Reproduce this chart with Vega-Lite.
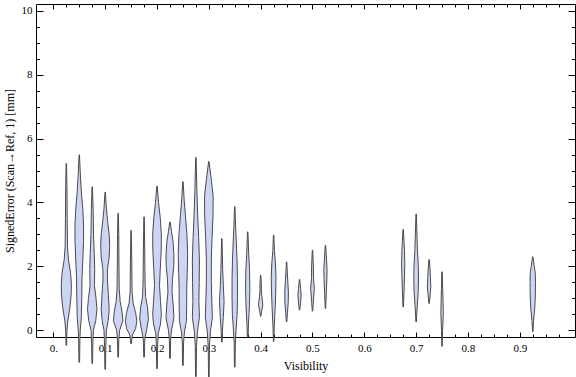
{
"$schema": "https://vega.github.io/schema/vega-lite/v6.json",
"width": 539, "height": 333,
"autosize": {"type": "none"},
"padding": {"left": 36, "top": 4, "right": 1, "bottom": 40},
"background": "white",
"config": {
 "view": {"stroke": "black", "strokeWidth": 1},
 "axis": {"domain": false, "grid": false, "labelFont": "Liberation Serif", "titleFont": "Liberation Serif", "labelColor": "black", "titleColor": "black", "tickColor": "black", "labelFontSize": 11, "titleFontSize": 12, "titleFontWeight": "normal", "tickWidth": 1}
},
"data": {"values": [
{"g":0.025,"y":-0.47,"lo":0.0244,"hi":0.0256},{"g":0.025,"y":0,"lo":0.0238,"hi":0.0262},{"g":0.025,"y":0.3,"lo":0.0221,"hi":0.0279},{"g":0.025,"y":0.7,"lo":0.0182,"hi":0.0318},{"g":0.025,"y":1.1,"lo":0.0157,"hi":0.0343},{"g":0.025,"y":1.45,"lo":0.0153,"hi":0.0347},{"g":0.025,"y":1.8,"lo":0.0169,"hi":0.0331},{"g":0.025,"y":2.2,"lo":0.0208,"hi":0.0292},{"g":0.025,"y":2.6,"lo":0.0227,"hi":0.0273},{"g":0.025,"y":3.5,"lo":0.0233,"hi":0.0267},{"g":0.025,"y":4.5,"lo":0.0238,"hi":0.0262},{"g":0.025,"y":5.22,"lo":0.0246,"hi":0.0254},
{"g":0.05,"y":-1.0,"lo":0.0494,"hi":0.0506},{"g":0.05,"y":-0.3,"lo":0.0488,"hi":0.0512},{"g":0.05,"y":0,"lo":0.0481,"hi":0.0519},{"g":0.05,"y":0.4,"lo":0.0461,"hi":0.0539},{"g":0.05,"y":1.0,"lo":0.0452,"hi":0.0548},{"g":0.05,"y":1.6,"lo":0.0448,"hi":0.0552},{"g":0.05,"y":2.2,"lo":0.0432,"hi":0.0568},{"g":0.05,"y":2.8,"lo":0.0417,"hi":0.0583},{"g":0.05,"y":3.3,"lo":0.0417,"hi":0.0583},{"g":0.05,"y":3.8,"lo":0.0432,"hi":0.0568},{"g":0.05,"y":4.3,"lo":0.0458,"hi":0.0542},{"g":0.05,"y":4.8,"lo":0.0477,"hi":0.0523},{"g":0.05,"y":5.49,"lo":0.0496,"hi":0.0504},
{"g":0.075,"y":-1.04,"lo":0.0744,"hi":0.0756},{"g":0.075,"y":-0.4,"lo":0.0738,"hi":0.0762},{"g":0.075,"y":0,"lo":0.0727,"hi":0.0773},{"g":0.075,"y":0.3,"lo":0.0682,"hi":0.0818},{"g":0.075,"y":0.65,"lo":0.0659,"hi":0.0841},{"g":0.075,"y":1.0,"lo":0.0677,"hi":0.0823},{"g":0.075,"y":1.4,"lo":0.0708,"hi":0.0792},{"g":0.075,"y":1.9,"lo":0.0702,"hi":0.0798},{"g":0.075,"y":2.4,"lo":0.0711,"hi":0.0789},{"g":0.075,"y":3.0,"lo":0.0725,"hi":0.0775},{"g":0.075,"y":3.8,"lo":0.0733,"hi":0.0767},{"g":0.075,"y":4.49,"lo":0.0746,"hi":0.0754},
{"g":0.1,"y":-1.22,"lo":0.0994,"hi":0.1006},{"g":0.1,"y":-0.5,"lo":0.0988,"hi":0.1012},{"g":0.1,"y":0,"lo":0.0977,"hi":0.1023},{"g":0.1,"y":0.3,"lo":0.0942,"hi":0.1058},{"g":0.1,"y":0.65,"lo":0.0923,"hi":0.1077},{"g":0.1,"y":1.1,"lo":0.0938,"hi":0.1062},{"g":0.1,"y":1.6,"lo":0.0958,"hi":0.1042},{"g":0.1,"y":1.9,"lo":0.0956,"hi":0.1044},{"g":0.1,"y":2.3,"lo":0.0923,"hi":0.1077},{"g":0.1,"y":2.65,"lo":0.0913,"hi":0.1087},{"g":0.1,"y":3.0,"lo":0.0923,"hi":0.1077},{"g":0.1,"y":3.4,"lo":0.0952,"hi":0.1048},{"g":0.1,"y":3.8,"lo":0.0977,"hi":0.1023},{"g":0.1,"y":4.32,"lo":0.0996,"hi":0.1004},
{"g":0.125,"y":-0.84,"lo":0.1244,"hi":0.1256},{"g":0.125,"y":-0.3,"lo":0.1238,"hi":0.1262},{"g":0.125,"y":0,"lo":0.1221,"hi":0.1279},{"g":0.125,"y":0.3,"lo":0.1159,"hi":0.1341},{"g":0.125,"y":0.6,"lo":0.1177,"hi":0.1323},{"g":0.125,"y":0.9,"lo":0.1211,"hi":0.1289},{"g":0.125,"y":1.3,"lo":0.1229,"hi":0.1271},{"g":0.125,"y":2.2,"lo":0.1235,"hi":0.1265},{"g":0.125,"y":3.0,"lo":0.1238,"hi":0.1262},{"g":0.125,"y":3.66,"lo":0.1246,"hi":0.1254},
{"g":0.15,"y":-0.42,"lo":0.1494,"hi":0.1506},{"g":0.15,"y":-0.15,"lo":0.1477,"hi":0.1523},{"g":0.15,"y":0.05,"lo":0.1413,"hi":0.1587},{"g":0.15,"y":0.3,"lo":0.139,"hi":0.161},{"g":0.15,"y":0.55,"lo":0.1413,"hi":0.1587},{"g":0.15,"y":0.85,"lo":0.1461,"hi":0.1539},{"g":0.15,"y":1.2,"lo":0.1481,"hi":0.1519},{"g":0.15,"y":2.2,"lo":0.1487,"hi":0.1513},{"g":0.15,"y":3.13,"lo":0.1496,"hi":0.1504},
{"g":0.175,"y":-0.84,"lo":0.1744,"hi":0.1756},{"g":0.175,"y":-0.25,"lo":0.1735,"hi":0.1765},{"g":0.175,"y":0,"lo":0.1702,"hi":0.1798},{"g":0.175,"y":0.35,"lo":0.1667,"hi":0.1833},{"g":0.175,"y":0.7,"lo":0.1682,"hi":0.1818},{"g":0.175,"y":1.05,"lo":0.1721,"hi":0.1779},{"g":0.175,"y":1.5,"lo":0.1731,"hi":0.1769},{"g":0.175,"y":2.5,"lo":0.1737,"hi":0.1763},{"g":0.175,"y":3.55,"lo":0.1746,"hi":0.1754},
{"g":0.2,"y":-1.2,"lo":0.1994,"hi":0.2006},{"g":0.2,"y":-0.5,"lo":0.1988,"hi":0.2012},{"g":0.2,"y":-0.1,"lo":0.1977,"hi":0.2023},{"g":0.2,"y":0.2,"lo":0.1932,"hi":0.2068},{"g":0.2,"y":0.5,"lo":0.1917,"hi":0.2083},{"g":0.2,"y":0.9,"lo":0.1932,"hi":0.2068},{"g":0.2,"y":1.4,"lo":0.1952,"hi":0.2048},{"g":0.2,"y":1.9,"lo":0.1938,"hi":0.2062},{"g":0.2,"y":2.5,"lo":0.1919,"hi":0.2081},{"g":0.2,"y":3.0,"lo":0.1917,"hi":0.2083},{"g":0.2,"y":3.5,"lo":0.1936,"hi":0.2064},{"g":0.2,"y":4.0,"lo":0.1971,"hi":0.2029},{"g":0.2,"y":4.51,"lo":0.1996,"hi":0.2004},
{"g":0.225,"y":-0.88,"lo":0.2244,"hi":0.2256},{"g":0.225,"y":-0.3,"lo":0.2238,"hi":0.2262},{"g":0.225,"y":0,"lo":0.2221,"hi":0.2279},{"g":0.225,"y":0.4,"lo":0.2173,"hi":0.2327},{"g":0.225,"y":0.8,"lo":0.2188,"hi":0.2312},{"g":0.225,"y":1.2,"lo":0.2211,"hi":0.2289},{"g":0.225,"y":1.6,"lo":0.2202,"hi":0.2298},{"g":0.225,"y":2.0,"lo":0.2177,"hi":0.2323},{"g":0.225,"y":2.35,"lo":0.2173,"hi":0.2327},{"g":0.225,"y":2.8,"lo":0.2192,"hi":0.2308},{"g":0.225,"y":3.1,"lo":0.2221,"hi":0.2279},{"g":0.225,"y":3.39,"lo":0.2246,"hi":0.2254},
{"g":0.25,"y":-1.1,"lo":0.2494,"hi":0.2506},{"g":0.25,"y":-0.4,"lo":0.2488,"hi":0.2512},{"g":0.25,"y":-0.05,"lo":0.2471,"hi":0.2529},{"g":0.25,"y":0.3,"lo":0.2432,"hi":0.2568},{"g":0.25,"y":0.8,"lo":0.2427,"hi":0.2573},{"g":0.25,"y":1.3,"lo":0.2427,"hi":0.2573},{"g":0.25,"y":1.8,"lo":0.2417,"hi":0.2583},{"g":0.25,"y":2.4,"lo":0.2409,"hi":0.2591},{"g":0.25,"y":3.0,"lo":0.2423,"hi":0.2577},{"g":0.25,"y":3.6,"lo":0.2452,"hi":0.2548},{"g":0.25,"y":4.1,"lo":0.2477,"hi":0.2523},{"g":0.25,"y":4.65,"lo":0.2496,"hi":0.2504},
{"g":0.275,"y":-1.45,"lo":0.2744,"hi":0.2756},{"g":0.275,"y":-0.5,"lo":0.2738,"hi":0.2762},{"g":0.275,"y":-0.05,"lo":0.2721,"hi":0.2779},{"g":0.275,"y":0.4,"lo":0.2682,"hi":0.2818},{"g":0.275,"y":0.9,"lo":0.2692,"hi":0.2808},{"g":0.275,"y":1.5,"lo":0.2686,"hi":0.2814},{"g":0.275,"y":2.2,"lo":0.2682,"hi":0.2818},{"g":0.275,"y":2.9,"lo":0.2696,"hi":0.2804},{"g":0.275,"y":3.6,"lo":0.2715,"hi":0.2785},{"g":0.275,"y":4.4,"lo":0.2731,"hi":0.2769},{"g":0.275,"y":5.41,"lo":0.2746,"hi":0.2754},
{"g":0.3,"y":-1.46,"lo":0.2994,"hi":0.3006},{"g":0.3,"y":-0.5,"lo":0.2988,"hi":0.3012},{"g":0.3,"y":-0.05,"lo":0.2971,"hi":0.3029},{"g":0.3,"y":0.4,"lo":0.2932,"hi":0.3068},{"g":0.3,"y":0.9,"lo":0.2942,"hi":0.3058},{"g":0.3,"y":1.5,"lo":0.2952,"hi":0.3048},{"g":0.3,"y":2.2,"lo":0.2952,"hi":0.3048},{"g":0.3,"y":2.9,"lo":0.2938,"hi":0.3062},{"g":0.3,"y":3.6,"lo":0.2919,"hi":0.3081},{"g":0.3,"y":4.2,"lo":0.2917,"hi":0.3083},{"g":0.3,"y":4.7,"lo":0.2952,"hi":0.3048},{"g":0.3,"y":5.28,"lo":0.2996,"hi":0.3004},
{"g":0.325,"y":-0.37,"lo":0.3244,"hi":0.3256},{"g":0.325,"y":0,"lo":0.3237,"hi":0.3263},{"g":0.325,"y":0.4,"lo":0.3221,"hi":0.3279},{"g":0.325,"y":0.9,"lo":0.3206,"hi":0.3294},{"g":0.325,"y":1.4,"lo":0.3221,"hi":0.3279},{"g":0.325,"y":1.9,"lo":0.3233,"hi":0.3267},{"g":0.325,"y":2.87,"lo":0.3246,"hi":0.3254},
{"g":0.35,"y":-1.15,"lo":0.3494,"hi":0.3506},{"g":0.35,"y":-0.3,"lo":0.3488,"hi":0.3512},{"g":0.35,"y":0,"lo":0.3475,"hi":0.3525},{"g":0.35,"y":0.5,"lo":0.3454,"hi":0.3546},{"g":0.35,"y":1.0,"lo":0.3448,"hi":0.3552},{"g":0.35,"y":1.6,"lo":0.3448,"hi":0.3552},{"g":0.35,"y":2.2,"lo":0.3456,"hi":0.3544},{"g":0.35,"y":2.8,"lo":0.3471,"hi":0.3529},{"g":0.35,"y":3.3,"lo":0.3485,"hi":0.3515},{"g":0.35,"y":3.87,"lo":0.3496,"hi":0.3504},
{"g":0.375,"y":-0.2,"lo":0.3744,"hi":0.3756},{"g":0.375,"y":0.2,"lo":0.3735,"hi":0.3765},{"g":0.375,"y":0.7,"lo":0.3719,"hi":0.3781},{"g":0.375,"y":1.3,"lo":0.3708,"hi":0.3792},{"g":0.375,"y":1.9,"lo":0.3715,"hi":0.3785},{"g":0.375,"y":2.4,"lo":0.3731,"hi":0.3769},{"g":0.375,"y":3.08,"lo":0.3746,"hi":0.3754},
{"g":0.4,"y":0.44,"lo":0.3996,"hi":0.4004},{"g":0.4,"y":0.6,"lo":0.3981,"hi":0.4019},{"g":0.4,"y":0.8,"lo":0.3958,"hi":0.4042},{"g":0.4,"y":1.05,"lo":0.3977,"hi":0.4023},{"g":0.4,"y":1.2,"lo":0.3985,"hi":0.4015},{"g":0.4,"y":1.45,"lo":0.3987,"hi":0.4013},{"g":0.4,"y":1.72,"lo":0.3996,"hi":0.4004},
{"g":0.425,"y":-0.35,"lo":0.4246,"hi":0.4254},{"g":0.425,"y":0.1,"lo":0.4238,"hi":0.4262},{"g":0.425,"y":0.7,"lo":0.4221,"hi":0.4279},{"g":0.425,"y":1.2,"lo":0.4209,"hi":0.4291},{"g":0.425,"y":1.65,"lo":0.4204,"hi":0.4296},{"g":0.425,"y":2.1,"lo":0.4215,"hi":0.4285},{"g":0.425,"y":2.5,"lo":0.4235,"hi":0.4265},{"g":0.425,"y":2.98,"lo":0.4246,"hi":0.4254},
{"g":0.45,"y":0.26,"lo":0.4496,"hi":0.4504},{"g":0.45,"y":0.55,"lo":0.4483,"hi":0.4517},{"g":0.45,"y":0.9,"lo":0.4467,"hi":0.4533},{"g":0.45,"y":1.2,"lo":0.4465,"hi":0.4535},{"g":0.45,"y":1.55,"lo":0.4477,"hi":0.4523},{"g":0.45,"y":1.85,"lo":0.4488,"hi":0.4512},{"g":0.45,"y":2.14,"lo":0.4496,"hi":0.4504},
{"g":0.475,"y":0.63,"lo":0.4746,"hi":0.4754},{"g":0.475,"y":0.85,"lo":0.4731,"hi":0.4769},{"g":0.475,"y":1.1,"lo":0.4719,"hi":0.4781},{"g":0.475,"y":1.3,"lo":0.4729,"hi":0.4771},{"g":0.475,"y":1.59,"lo":0.4746,"hi":0.4754},
{"g":0.5,"y":0.6,"lo":0.4996,"hi":0.5004},{"g":0.5,"y":0.9,"lo":0.4983,"hi":0.5017},{"g":0.5,"y":1.3,"lo":0.4965,"hi":0.5035},{"g":0.5,"y":1.65,"lo":0.4981,"hi":0.5019},{"g":0.5,"y":2.0,"lo":0.4983,"hi":0.5017},{"g":0.5,"y":2.51,"lo":0.4996,"hi":0.5004},
{"g":0.525,"y":0.68,"lo":0.5246,"hi":0.5254},{"g":0.525,"y":1.1,"lo":0.5235,"hi":0.5265},{"g":0.525,"y":1.6,"lo":0.5223,"hi":0.5277},{"g":0.525,"y":1.9,"lo":0.5219,"hi":0.5281},{"g":0.525,"y":2.2,"lo":0.5229,"hi":0.5271},{"g":0.525,"y":2.66,"lo":0.5246,"hi":0.5254},
{"g":0.675,"y":0.73,"lo":0.6746,"hi":0.6754},{"g":0.675,"y":1.2,"lo":0.6735,"hi":0.6765},{"g":0.675,"y":1.7,"lo":0.6725,"hi":0.6775},{"g":0.675,"y":2.1,"lo":0.6719,"hi":0.6781},{"g":0.675,"y":2.5,"lo":0.6725,"hi":0.6775},{"g":0.675,"y":2.8,"lo":0.6735,"hi":0.6765},{"g":0.675,"y":3.16,"lo":0.6746,"hi":0.6754},
{"g":0.7,"y":0.26,"lo":0.6996,"hi":0.7004},{"g":0.7,"y":0.7,"lo":0.6981,"hi":0.7019},{"g":0.7,"y":1.2,"lo":0.6961,"hi":0.7039},{"g":0.7,"y":1.6,"lo":0.6954,"hi":0.7046},{"g":0.7,"y":2.0,"lo":0.6958,"hi":0.7042},{"g":0.7,"y":2.5,"lo":0.6975,"hi":0.7025},{"g":0.7,"y":3.0,"lo":0.6985,"hi":0.7015},{"g":0.7,"y":3.64,"lo":0.6996,"hi":0.7004},
{"g":0.725,"y":0.84,"lo":0.7246,"hi":0.7254},{"g":0.725,"y":1.1,"lo":0.7231,"hi":0.7269},{"g":0.725,"y":1.35,"lo":0.7217,"hi":0.7283},{"g":0.725,"y":1.65,"lo":0.7225,"hi":0.7275},{"g":0.725,"y":1.9,"lo":0.7231,"hi":0.7269},{"g":0.725,"y":2.21,"lo":0.7246,"hi":0.7254},
{"g":0.75,"y":-0.5,"lo":0.7496,"hi":0.7504},{"g":0.75,"y":0,"lo":0.749,"hi":0.751},{"g":0.75,"y":0.5,"lo":0.7477,"hi":0.7523},{"g":0.75,"y":0.9,"lo":0.7481,"hi":0.7519},{"g":0.75,"y":1.3,"lo":0.7488,"hi":0.7512},{"g":0.75,"y":1.83,"lo":0.7496,"hi":0.7504},
{"g":0.925,"y":-0.05,"lo":0.9246,"hi":0.9254},{"g":0.925,"y":0.3,"lo":0.9235,"hi":0.9265},{"g":0.925,"y":0.7,"lo":0.9211,"hi":0.9289},{"g":0.925,"y":1.1,"lo":0.92,"hi":0.93},{"g":0.925,"y":1.5,"lo":0.9198,"hi":0.9302},{"g":0.925,"y":1.8,"lo":0.9202,"hi":0.9298},{"g":0.925,"y":2.0,"lo":0.9221,"hi":0.9279},{"g":0.925,"y":2.3,"lo":0.9246,"hi":0.9254}
]},
"layer": [
 {
  "mark": {"type": "area", "orient": "horizontal", "fill": "#cdd5f5", "stroke": "#4a4a4a", "strokeWidth": 1, "clip": false},
  "encoding": {
   "y": {"field": "y", "type": "quantitative", "scale": {"domain": [-0.21, 10.21], "nice": false, "zero": false},
     "axis": {"orient": "left", "values": [0, 2, 4, 6, 8, 10], "format": "d", "tickSize": -7, "labelPadding": 11, "title": "SignedError (Scan→Ref, 1) [mm]", "titlePadding": 5}},
   "x": {"field": "lo", "type": "quantitative", "scale": {"domain": [-0.0335, 1.0065], "nice": false, "zero": false},
     "axis": {"orient": "bottom", "values": [0, 0.1, 0.2, 0.3, 0.4, 0.5, 0.6, 0.7, 0.8, 0.9], "labelExpr": "datum.value == 0 ? '0.' : format(datum.value, '.1f')", "tickSize": -5, "labelPadding": 10, "title": "Visibility", "titlePadding": 7}},
   "x2": {"field": "hi"},
   "detail": {"field": "g", "type": "nominal"}
  }
 },
 {
  "mark": {"type": "point", "opacity": 0},
  "encoding": {
   "y": {"field": "y", "type": "quantitative", "axis": {"orient": "left", "values": [0.5,1,1.5,2.5,3,3.5,4.5,5,5.5,6.5,7,7.5,8.5,9,9.5], "labels": false, "tickSize": -3.5, "title": null}},
   "x": {"field": "lo", "type": "quantitative", "axis": {"orient": "bottom", "values": [0.025,0.05,0.075,0.125,0.15,0.175,0.225,0.25,0.275,0.325,0.35,0.375,0.425,0.45,0.475,0.525,0.55,0.575,0.625,0.65,0.675,0.725,0.75,0.775,0.825,0.85,0.875,0.925,0.95,0.975], "labels": false, "tickSize": -3, "title": null}}
  }
 },
 {
  "mark": {"type": "point", "opacity": 0},
  "encoding": {
   "y": {"field": "y", "type": "quantitative", "axis": {"orient": "right", "values": [0, 2, 4, 6, 8, 10], "labels": false, "tickSize": -7, "title": null}},
   "x": {"field": "lo", "type": "quantitative", "axis": {"orient": "top", "values": [0, 0.1, 0.2, 0.3, 0.4, 0.5, 0.6, 0.7, 0.8, 0.9], "labels": false, "tickSize": -5, "title": null}}
  }
 },
 {
  "mark": {"type": "point", "opacity": 0},
  "encoding": {
   "y": {"field": "y", "type": "quantitative", "axis": {"orient": "right", "values": [0.5,1,1.5,2.5,3,3.5,4.5,5,5.5,6.5,7,7.5,8.5,9,9.5], "labels": false, "tickSize": -3.5, "title": null}},
   "x": {"field": "lo", "type": "quantitative", "axis": {"orient": "top", "values": [0.025,0.05,0.075,0.125,0.15,0.175,0.225,0.25,0.275,0.325,0.35,0.375,0.425,0.45,0.475,0.525,0.55,0.575,0.625,0.65,0.675,0.725,0.75,0.775,0.825,0.85,0.875,0.925,0.95,0.975], "labels": false, "tickSize": -3, "title": null}}
  }
 }
],
"resolve": {"axis": {"x": "independent", "y": "independent"}}
}
